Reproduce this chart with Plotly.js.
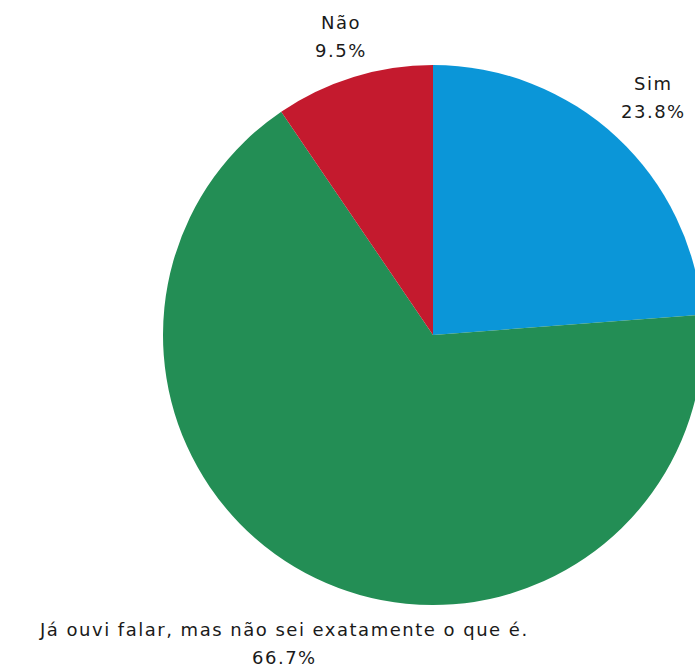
<!DOCTYPE html>
<html>
<head>
<meta charset="utf-8">
<script src="https://cdn.plot.ly/plotly-3.0.1.min.js"></script>
<style>
html, body { margin: 0; padding: 0; overflow: hidden; background: #fff; }
#chart { width: 866px; height: 670px; }
.annotation-text { letter-spacing: 1.5px; }
</style>
</head>
<body>
<div id="chart"></div>
<script>
const categories = ['Sim', 'Já ouvi falar, mas não sei exatamente o que é.', 'Não'];
const values = [23.8, 66.7, 9.5];
const colors = ['#0b96d8', '#238e55', '#c41a2e'];

// label placement (style): distance of label centre from pie centre, in radii
const labelDist = [1.20, 1.27, 1.155];

const W = 866, H = 670;
const M = { l: 163, r: 163, t: 65, b: 65 };
const plotW = W - M.l - M.r, plotH = H - M.t - M.b;
const radiusPx = Math.min(plotW, plotH) / 2;

const total = values.reduce((a, b) => a + b, 0);
const annotations = [];
let cum = 0;
values.forEach((v, i) => {
  const mid = (cum + v / 2) / total * 2 * Math.PI; // clockwise from 12 o'clock
  cum += v;
  const r = radiusPx * labelDist[i];
  const x = 0.5 + r * Math.sin(mid) / plotW;
  const y = 0.5 + r * Math.cos(mid) / plotH;
  const pct = (v / total * 100).toFixed(1) + '%';
  const font = { family: 'DejaVu Sans, sans-serif', size: 18, color: '#1a1a1a' };
  annotations.push({ xref: 'paper', yref: 'paper', x: x, y: y, xanchor: 'center', yanchor: 'middle',
    text: categories[i], showarrow: false, font: font, yshift: 14 });
  annotations.push({ xref: 'paper', yref: 'paper', x: x, y: y, xanchor: 'center', yanchor: 'middle',
    text: pct, showarrow: false, font: font, yshift: -14 });
});

const trace = {
  type: 'pie',
  labels: categories,
  values: values,
  sort: false,
  direction: 'clockwise',
  rotation: 0,
  marker: { colors: colors, line: { width: 0 } },
  textinfo: 'none',
  hoverinfo: 'label+percent',
  showlegend: false,
  automargin: false
};

const layout = {
  width: W,
  height: H,
  margin: M,
  paper_bgcolor: '#fff',
  plot_bgcolor: '#fff',
  showlegend: false,
  annotations: annotations
};

Plotly.newPlot('chart', [trace], layout, { displayModeBar: false, staticPlot: true });
</script>
</body>
</html>
